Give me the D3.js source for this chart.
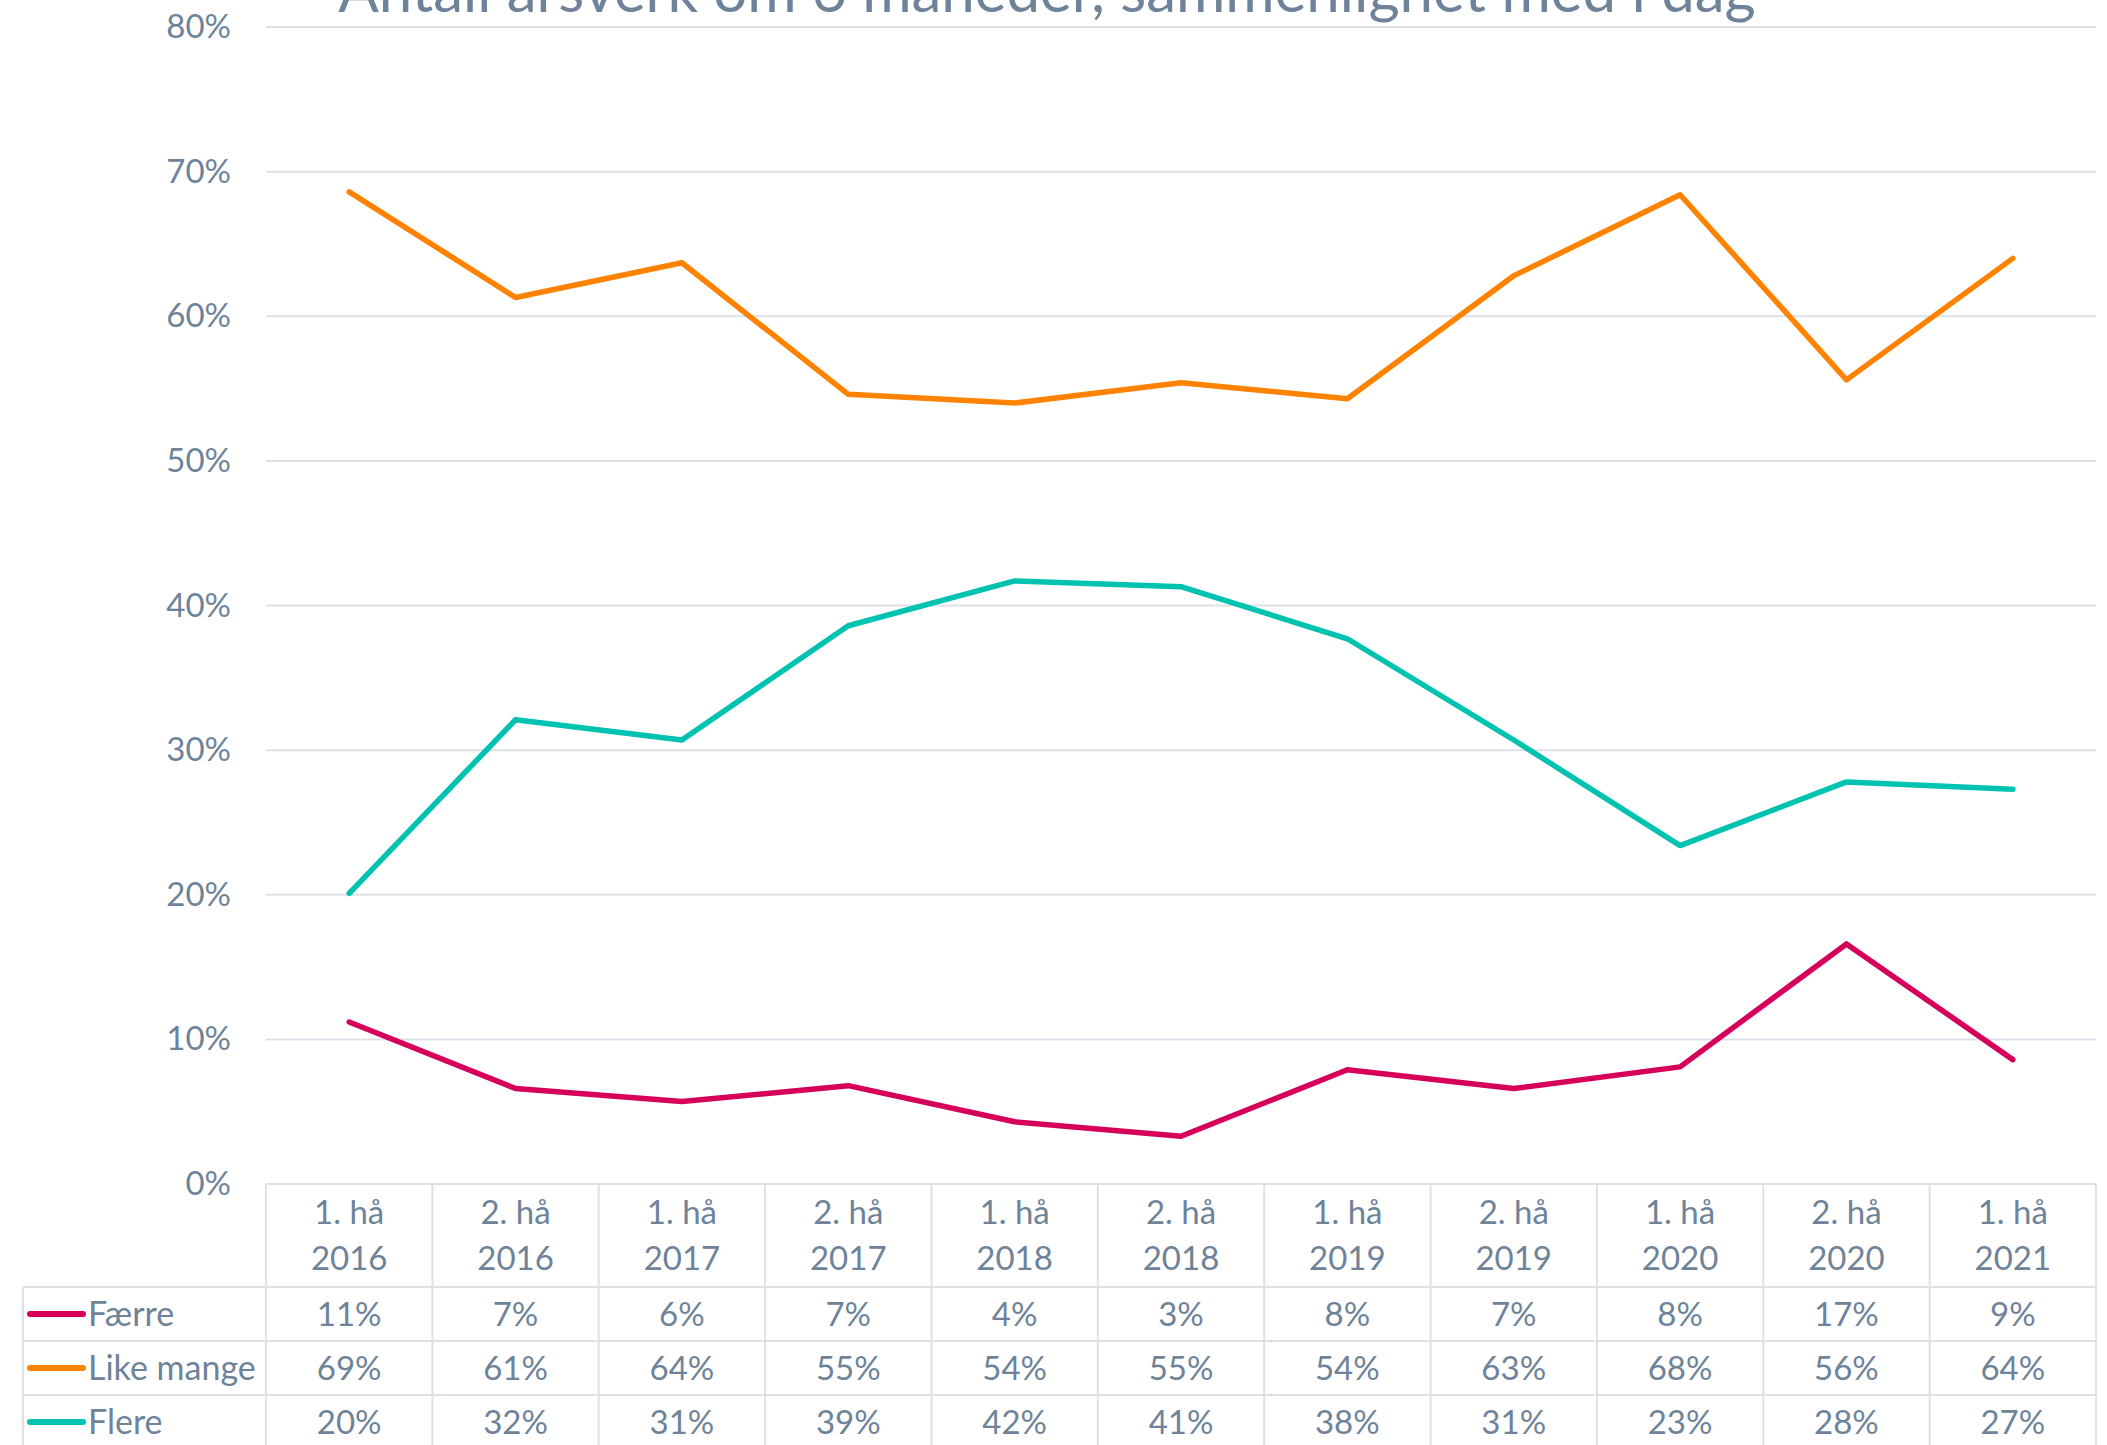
<!DOCTYPE html>
<html>
<head>
<meta charset="utf-8">
<script src="https://cdn.jsdelivr.net/npm/d3@7"></script>
<style>
  body { margin: 0; background: #fff; }
  svg text { font-family: Lato, 'Open Sans', sans-serif; fill: #6e8399; }
</style>
</head>
<body>
<div id="chart"></div>
<script>
// data
const categories = ['1. hå 2016', '2. hå 2016', '1. hå 2017', '2. hå 2017', '1. hå 2018',
  '2. hå 2018', '1. hå 2019', '2. hå 2019', '1. hå 2020', '2. hå 2020', '1. hå 2021']
const faerre = [11.2, 6.6, 5.7, 6.8, 4.3, 3.3, 7.9, 6.6, 8.1, 16.6, 8.6]
const likeMange = [68.6, 61.3, 63.7, 54.6, 54.0, 55.4, 54.3, 62.8, 68.4, 55.6, 64.0]
const flere = [20.1, 32.1, 30.7, 38.6, 41.7, 41.3, 37.7, 30.7, 23.4, 27.8, 27.3]
const seriesNames = ['Færre', 'Like mange', 'Flere']
const seriesColors = ['#d6005b', '#ff8300', '#00c2b1']
const yTicks = [0, 10, 20, 30, 40, 50, 60, 70, 80]
const title = 'Antall årsverk om 6 måneder, sammenlignet med i dag'

const width = 2107
const height = 1445
const plotLeft = 266
const plotRight = 2096
const plotTop = 27
const plotBottom = 1184
const headerBottom = 1287
const rowHeight = 54
const legendLeft = 23
const gridColor = '#dde1e7'

const svg = d3.select('#chart')
  .append('svg')
  .attr('width', width)
  .attr('height', height)

const xScale = d3.scaleBand().domain(categories).range([plotLeft, plotRight])
const yScale = d3.scaleLinear().domain([0, 80]).range([plotBottom, plotTop])
const cx = d => xScale(d) + xScale.bandwidth() / 2

// title (cut off at the top in the reference)
svg.append('text')
  .attr('x', 1047)
  .attr('y', 12)
  .attr('text-anchor', 'middle')
  .style('font-size', '60px')
  .text(title)

// gridlines
svg.append('g')
  .selectAll('line')
  .data(yTicks.filter(d => d > 0))
  .enter()
  .append('line')
  .attr('x1', plotLeft)
  .attr('x2', plotRight)
  .attr('y1', d => yScale(d))
  .attr('y2', d => yScale(d))
  .attr('stroke', gridColor)
  .attr('stroke-width', 2)

// y axis labels
const yAxis = d3.axisLeft(yScale)
  .tickValues(yTicks)
  .tickFormat(d => d + '%')
  .tickSize(0)
  .tickPadding(35)
const yAxisG = svg.append('g')
  .attr('transform', 'translate(' + plotLeft + ',0)')
  .call(yAxis)
yAxisG.select('.domain').remove()
yAxisG.selectAll('text')
  .style('font-size', '33px')
  .attr('fill', null)

// lines
const series = [faerre, likeMange, flere]
const line = d3.line()
  .x((d, i) => cx(categories[i]))
  .y(d => yScale(d))

svg.append('g')
  .selectAll('path')
  .data(series)
  .enter()
  .append('path')
  .attr('fill', 'none')
  .attr('stroke', (d, i) => seriesColors[i])
  .attr('stroke-width', 5.5)
  .attr('stroke-linejoin', 'round')
  .attr('stroke-linecap', 'round')
  .attr('d', d => line(d))

// data table
const table = svg.append('g')
const tableBottom = headerBottom + rowHeight * series.length

// horizontal lines
table.append('line')
  .attr('x1', plotLeft).attr('x2', plotRight)
  .attr('y1', plotBottom).attr('y2', plotBottom)
  .attr('stroke', gridColor).attr('stroke-width', 2)
table.selectAll('.row-line')
  .data(d3.range(series.length + 1))
  .enter()
  .append('line')
  .attr('class', 'row-line')
  .attr('x1', legendLeft).attr('x2', plotRight)
  .attr('y1', i => headerBottom + i * rowHeight)
  .attr('y2', i => headerBottom + i * rowHeight)
  .attr('stroke', gridColor).attr('stroke-width', 2)

// vertical lines
const colEdges = categories.map(c => xScale(c)).concat([plotRight])
table.selectAll('.col-line')
  .data(colEdges)
  .enter()
  .append('line')
  .attr('class', 'col-line')
  .attr('x1', d => d).attr('x2', d => d)
  .attr('y1', plotBottom).attr('y2', tableBottom)
  .attr('stroke', gridColor).attr('stroke-width', 2)
table.append('line')
  .attr('x1', legendLeft).attr('x2', legendLeft)
  .attr('y1', headerBottom).attr('y2', tableBottom)
  .attr('stroke', gridColor).attr('stroke-width', 2)

// header labels
const headers = table.selectAll('.header')
  .data(categories)
  .enter()
  .append('text')
  .attr('class', 'header')
  .attr('text-anchor', 'middle')
  .style('font-size', '33px')
headers.append('tspan')
  .attr('x', d => cx(d))
  .attr('y', 1224)
  .text(d => d.slice(0, d.lastIndexOf(' ')))
headers.append('tspan')
  .attr('x', d => cx(d))
  .attr('y', 1270)
  .text(d => d.slice(d.lastIndexOf(' ') + 1))

// rows
series.forEach(function(values, i) {
  const yMid = headerBottom + i * rowHeight + rowHeight / 2
  table.append('line')
    .attr('x1', 30).attr('x2', 83)
    .attr('y1', yMid).attr('y2', yMid)
    .attr('stroke', seriesColors[i])
    .attr('stroke-width', 6)
    .attr('stroke-linecap', 'round')
  table.append('text')
    .attr('x', 88)
    .attr('y', yMid)
    .attr('dy', '0.36em')
    .style('font-size', '34px')
    .text(seriesNames[i])
  table.selectAll('.cell-' + i)
    .data(values)
    .enter()
    .append('text')
    .attr('class', 'cell-' + i)
    .attr('x', (d, j) => cx(categories[j]))
    .attr('y', yMid)
    .attr('dy', '0.36em')
    .attr('text-anchor', 'middle')
    .style('font-size', '33px')
    .text(d => Math.round(d) + '%')
})
</script>
</body>
</html>
